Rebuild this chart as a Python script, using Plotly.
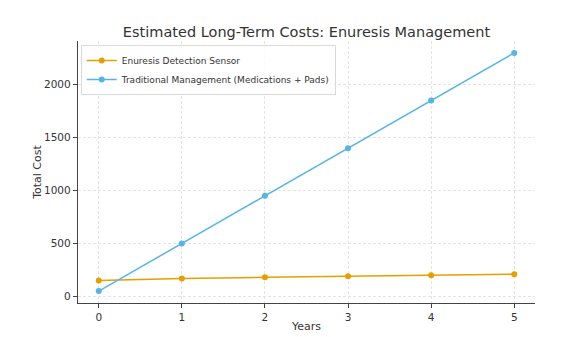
import plotly.graph_objects as go

years = [0, 1, 2, 3, 4, 5]
sensor_cost = [150, 170, 180, 190, 200, 210]
traditional_cost = [50, 500, 950, 1400, 1850, 2300]
series_names = ["Enuresis Detection Sensor", "Traditional Management (Medications + Pads)"]
x_ticks = [0, 1, 2, 3, 4, 5]
y_ticks = [0, 500, 1000, 1500, 2000]

fig = go.Figure()
fig.add_trace(go.Scatter(x=years, y=sensor_cost, mode="lines+markers", name=series_names[0],
                         line=dict(color="#E69F00", width=1.5), marker=dict(size=6, color="#E69F00")))
fig.add_trace(go.Scatter(x=years, y=traditional_cost, mode="lines+markers", name=series_names[1],
                         line=dict(color="#56B4E9", width=1.5), marker=dict(size=6, color="#56B4E9")))

fig.update_layout(
    width=561, height=337,
    margin=dict(l=78, r=26, t=41, b=34, autoexpand=False),
    paper_bgcolor="white", plot_bgcolor="white",
    font=dict(family="DejaVu Sans", color="#333333", size=11),
    title=dict(text="Estimated Long-Term Costs: Enuresis Management", x=0.5, xanchor="center",
               xref="paper", y=1 - 32/337, yanchor="middle", font=dict(size=14.5, color="#333333")),
    showlegend=True,
    legend=dict(x=0.006, y=0.985, xanchor="left", yanchor="top", bgcolor="rgba(255,255,255,0.8)",
                bordercolor="#d9d9d9", borderwidth=1, font=dict(size=9, color="#333333"),
                tracegroupgap=0, itemwidth=30),
)
fig.update_xaxes(range=[-0.25, 5.25], tickvals=x_ticks, automargin=False,
                 title=dict(text="Years", font=dict(size=11), standoff=0),
                 showline=True, linecolor="#444444", linewidth=1.4, ticks="outside", ticklen=4,
                 tickcolor="#444444", showgrid=True, gridcolor="#e3e3e3", griddash="3px,2px", gridwidth=0.8,
                 zeroline=False, tickfont=dict(size=10.5))
fig.update_yaxes(range=[-62.5, 2412.5], tickvals=y_ticks, automargin=False,
                 title=dict(text="Total Cost", font=dict(size=11), standoff=0),
                 showline=True, linecolor="#444444", linewidth=1.4, ticks="outside", ticklen=4,
                 tickcolor="#444444", showgrid=True, gridcolor="#e3e3e3", griddash="3px,2px", gridwidth=0.8,
                 zeroline=False, tickfont=dict(size=10.5))

fig.write_html("out.html")
